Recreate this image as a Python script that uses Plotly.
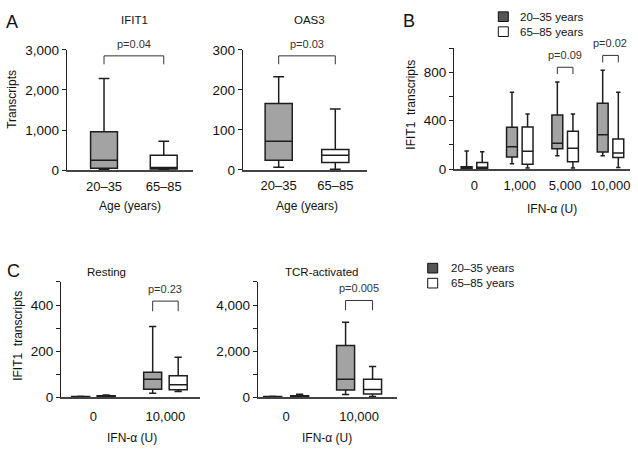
import plotly.graph_objects as go

W, H = 638, 458
FONT = "Liberation Sans, Arial, sans-serif"
YOUNG_FILL = "#a3a3a3"
OLD_FILL = "#ffffff"
LINE = "#1e1e1e"

# ---------------- data ----------------
age_groups = ["20–35", "65–85"]
legend_labels = ["20–35 years", "65–85 years"]

# Panel A: IFIT1 (young, old)
ifit1_low = [20, 10]
ifit1_q1 = [50, 32]
ifit1_med = [250, 64]
ifit1_q3 = [957, 370]
ifit1_high = [2285, 724]

# Panel A: OAS3 (young, old)
oas3_low = [7, 2]
oas3_q1 = [24, 18.5]
oas3_med = [72, 37]
oas3_q3 = [166, 51]
oas3_high = [233, 152]

# Panel B: IFIT1 vs IFN-alpha dose
doses_B = ["0", "1,000", "5,000", "10,000"]
B_young_low = [2, 43, 109, 109]
B_young_q1 = [3, 99, 168, 141]
B_young_med = [10, 184, 213, 283]
B_young_q3 = [19, 347, 448, 544]
B_young_high = [149, 635, 720, 819]
B_old_low = [2, 8, 8, 13]
B_old_q1 = [5, 40, 61, 96]
B_old_med = [15, 147, 173, 133]
B_old_q3 = [53, 349, 312, 248]
B_old_high = [144, 456, 456, 635]

# Panel C
doses_C = ["0", "10,000"]
C_rest_young_low = [0, 17]
C_rest_young_q1 = [0, 34]
C_rest_young_med = [1, 77]
C_rest_young_q3 = [3, 108]
C_rest_young_high = [4, 307]
C_rest_old_low = [0, 24]
C_rest_old_q1 = [1, 32]
C_rest_old_med = [3, 54]
C_rest_old_q3 = [6, 93]
C_rest_old_high = [9, 173]

C_tcr_young_low = [0, 110]
C_tcr_young_q1 = [5, 307]
C_tcr_young_med = [15, 775]
C_tcr_young_q3 = [30, 2239]
C_tcr_young_high = [40, 3254]
C_tcr_old_low = [0, 30]
C_tcr_old_q1 = [10, 139]
C_tcr_old_med = [30, 330]
C_tcr_old_q3 = [60, 775]
C_tcr_old_high = [120, 1324]

# p-values with bracket levels (top, leg bottom)
pA1 = ("p=0.04", 2850, 2640)
pA2 = ("p=0.03", 285, 264)
pB = [(2, "p=0.09", 843, 787), (3, "p=0.02", 941, 883)]
pC1 = ("p=0.23", 417, 373)
pC2 = ("p=0.005", 4197, 3775)

# ---------------- figure ----------------
fig = go.Figure()


def px_x(p):
    return p / W


def px_y(p):
    return 1 - p / H


def add_box(xaxis, yaxis, xs, low, q1, med, q3, high, fill, width):
    fig.add_trace(go.Box(
        x=xs, lowerfence=low, q1=q1, median=med, q3=q3, upperfence=high,
        fillcolor=fill, line=dict(color=LINE, width=1.5), width=width,
        whiskerwidth=0.4, boxpoints=False, showlegend=False,
        xaxis=xaxis, yaxis=yaxis, hoverinfo="skip"))


# A1
add_box("x", "y", [0], [ifit1_low[0]], [ifit1_q1[0]], [ifit1_med[0]], [ifit1_q3[0]], [ifit1_high[0]], YOUNG_FILL, 0.45)
add_box("x", "y", [1], [ifit1_low[1]], [ifit1_q1[1]], [ifit1_med[1]], [ifit1_q3[1]], [ifit1_high[1]], OLD_FILL, 0.45)
# A2
add_box("x2", "y2", [0], [oas3_low[0]], [oas3_q1[0]], [oas3_med[0]], [oas3_q3[0]], [oas3_high[0]], YOUNG_FILL, 0.48)
add_box("x2", "y2", [1], [oas3_low[1]], [oas3_q1[1]], [oas3_med[1]], [oas3_q3[1]], [oas3_high[1]], OLD_FILL, 0.48)
# B
offB = 0.172
add_box("x3", "y3", [i - offB for i in range(len(doses_B))], B_young_low, B_young_q1, B_young_med, B_young_q3, B_young_high, YOUNG_FILL, 0.24)
add_box("x3", "y3", [i + offB for i in range(len(doses_B))], B_old_low, B_old_q1, B_old_med, B_old_q3, B_old_high, OLD_FILL, 0.24)
# C1
offC1 = 0.177
add_box("x4", "y4", [i - offC1 for i in range(2)], C_rest_young_low, C_rest_young_q1, C_rest_young_med, C_rest_young_q3, C_rest_young_high, YOUNG_FILL, 0.25)
add_box("x4", "y4", [i + offC1 for i in range(2)], C_rest_old_low, C_rest_old_q1, C_rest_old_med, C_rest_old_q3, C_rest_old_high, OLD_FILL, 0.25)
# C2
offC2 = 0.185
add_box("x5", "y5", [i - offC2 for i in range(2)], C_tcr_young_low, C_tcr_young_q1, C_tcr_young_med, C_tcr_young_q3, C_tcr_young_high, YOUNG_FILL, 0.247)
add_box("x5", "y5", [i + offC2 for i in range(2)], C_tcr_old_low, C_tcr_old_q1, C_tcr_old_med, C_tcr_old_q3, C_tcr_old_high, OLD_FILL, 0.247)

xcommon = dict(showline=True, linecolor="#444", linewidth=1.5, ticks="", showgrid=False,
               zeroline=False, tickfont=dict(family=FONT, size=13, color="#111"), fixedrange=True)
ycommon = dict(showline=True, linecolor="#222", linewidth=1, ticks="outside", ticklen=4,
               tickcolor="#222", tickwidth=1, showgrid=False, zeroline=False,
               tickfont=dict(family=FONT, size=13.5, color="#111"), fixedrange=True)


def fmt(v):
    return f"{v:,}"


layout_axes = {
    "xaxis": dict(xcommon, domain=[px_x(66.7), px_x(193)], range=[-0.625, 1.49], ticklabelstandoff=3,
                  tickvals=[0, 1], ticktext=age_groups, anchor="y"),
    "yaxis": dict(ycommon, domain=[px_y(168.7), px_y(44.3)], range=[0, 3000],
                  tickvals=[0, 1000, 2000, 3000], ticktext=[fmt(v) for v in [0, 1000, 2000, 3000]], anchor="x"),
    "xaxis2": dict(xcommon, domain=[px_x(242.7), px_x(366.7)], range=[-0.636, 1.555], ticklabelstandoff=3,
                   tickvals=[0, 1], ticktext=age_groups, anchor="y2"),
    "yaxis2": dict(ycommon, domain=[px_y(168.5), px_y(44.3)], range=[0, 300],
                   tickvals=[0, 100, 200, 300], ticktext=["0", "100", "200", "300"], anchor="x2"),
    "xaxis3": dict(xcommon, domain=[px_x(454), px_x(630)], range=[-0.45, 3.43], ticklabelstandoff=4,
                   tickvals=list(range(4)), ticktext=doses_B, anchor="y3"),
    "yaxis3": dict(ycommon, domain=[px_y(167.5), px_y(42.7)], range=[0, 1000],
                   tickvals=[0, 200, 400, 600, 800, 1000], ticktext=["0", "", "400", "", "800", ""], anchor="x3"),
    "xaxis4": dict(xcommon, domain=[px_x(61), px_x(200)], range=[-0.45, 1.48], ticklabelstandoff=7,
                   tickvals=[0, 1], ticktext=doses_C, anchor="y4"),
    "yaxis4": dict(ycommon, domain=[px_y(403.3), px_y(284.3)], range=[0, 500],
                   tickvals=[0, 100, 200, 300, 400, 500], ticktext=["0", "", "200", "", "400", ""], anchor="x4"),
    "xaxis5": dict(xcommon, domain=[px_x(257.7), px_x(397)], range=[-0.39, 1.52], ticklabelstandoff=7,
                   tickvals=[0, 1], ticktext=doses_C, anchor="y5"),
    "yaxis5": dict(ycommon, domain=[px_y(403.3), px_y(284.3)], range=[0, 5000],
                   tickvals=[0, 1000, 2000, 3000, 4000, 5000], ticktext=["0", "", "2,000", "", "4,000", ""], anchor="x5"),
}

shapes = []
annotations = []


def bracket(xr, yr, x0, x1, ytop, ylow, label):
    shapes.append(dict(type="path", xref=xr, yref=yr,
                       path=f"M{x0},{ylow} L{x0},{ytop} L{x1},{ytop} L{x1},{ylow}",
                       line=dict(color="#333", width=1)))
    annotations.append(dict(x=(x0 + x1) / 2, y=ytop, xref=xr, yref=yr, text=label, showarrow=False,
                            yanchor="bottom", yshift=4, font=dict(family=FONT, size=11, color="#333")))


bracket("x", "y", 0, 1, pA1[1], pA1[2], pA1[0])
bracket("x2", "y2", 0, 1, pA2[1], pA2[2], pA2[0])
for gi, lab, yt, yl in pB:
    bracket("x3", "y3", gi - offB, gi + offB, yt, yl, lab)
bracket("x4", "y4", 1 - offC1, 1 + offC1, pC1[1], pC1[2], pC1[0])
bracket("x5", "y5", 1 - offC2, 1 + offC2, pC2[1], pC2[2], pC2[0])


def text(x, y, s, size=11, angle=0, xanchor="center", color="#111"):
    annotations.append(dict(x=px_x(x), y=px_y(y), xref="paper", yref="paper", text=s, showarrow=False,
                            xanchor=xanchor, yanchor="middle", textangle=angle,
                            font=dict(family=FONT, size=size, color=color)))


# panel letters
text(12, 15, "A", size=18)
text(409, 14, "B", size=18)
text(13, 273, "C", size=18)
# titles
text(134, 13, "IFIT1", size=11.5)
text(309, 13, "OAS3", size=11.5)
text(106, 274, "Resting", size=11.5)
text(322, 274, "TCR-activated", size=11.5)
# axis titles
text(12, 96, "Transcripts", size=12, angle=-90)
text(130, 206, "Age (years)", size=12)
text(307, 206, "Age (years)", size=12)
text(411, 101, "IFIT1\u00a0 transcripts", size=12, angle=-90)
text(552, 209, "IFN-α (U)", size=12)
text(18, 340, "IFIT1\u00a0 transcripts", size=12, angle=-90)
text(132, 446, "IFN-α (U)", size=12)
text(327, 446, "IFN-α (U)", size=12)

# legends
LEG_FILLS = ["#555555", "#ffffff"]
for (sx, sy0, tx) in [(498.3, 10, 518.3), (427.7, 270, 449.3)]:
    for k, lab in enumerate(legend_labels):
        cy = sy0 + k * 15.5
        shapes.append(dict(type="rect", xref="paper", yref="paper",
                           x0=px_x(sx), x1=px_x(sx + 10), y0=px_y(cy + 5), y1=px_y(cy - 5),
                           fillcolor=LEG_FILLS[k], line=dict(color="#111", width=1)))
        text(tx, cy, lab, size=11.5, xanchor="left")

fig.update_layout(width=W, height=H, margin=dict(l=0, r=0, t=0, b=0), autosize=False,
                  paper_bgcolor="white", plot_bgcolor="white", showlegend=False,
                  shapes=shapes, annotations=annotations, **layout_axes)

fig.write_html(
    "out.html", config={"displayModeBar": False},
    post_script=("document.documentElement.style.margin='0';document.documentElement.style.overflow='hidden';"
                 "document.body.style.margin='0';document.body.style.padding='0';"
                 "document.body.style.overflow='hidden';"))
